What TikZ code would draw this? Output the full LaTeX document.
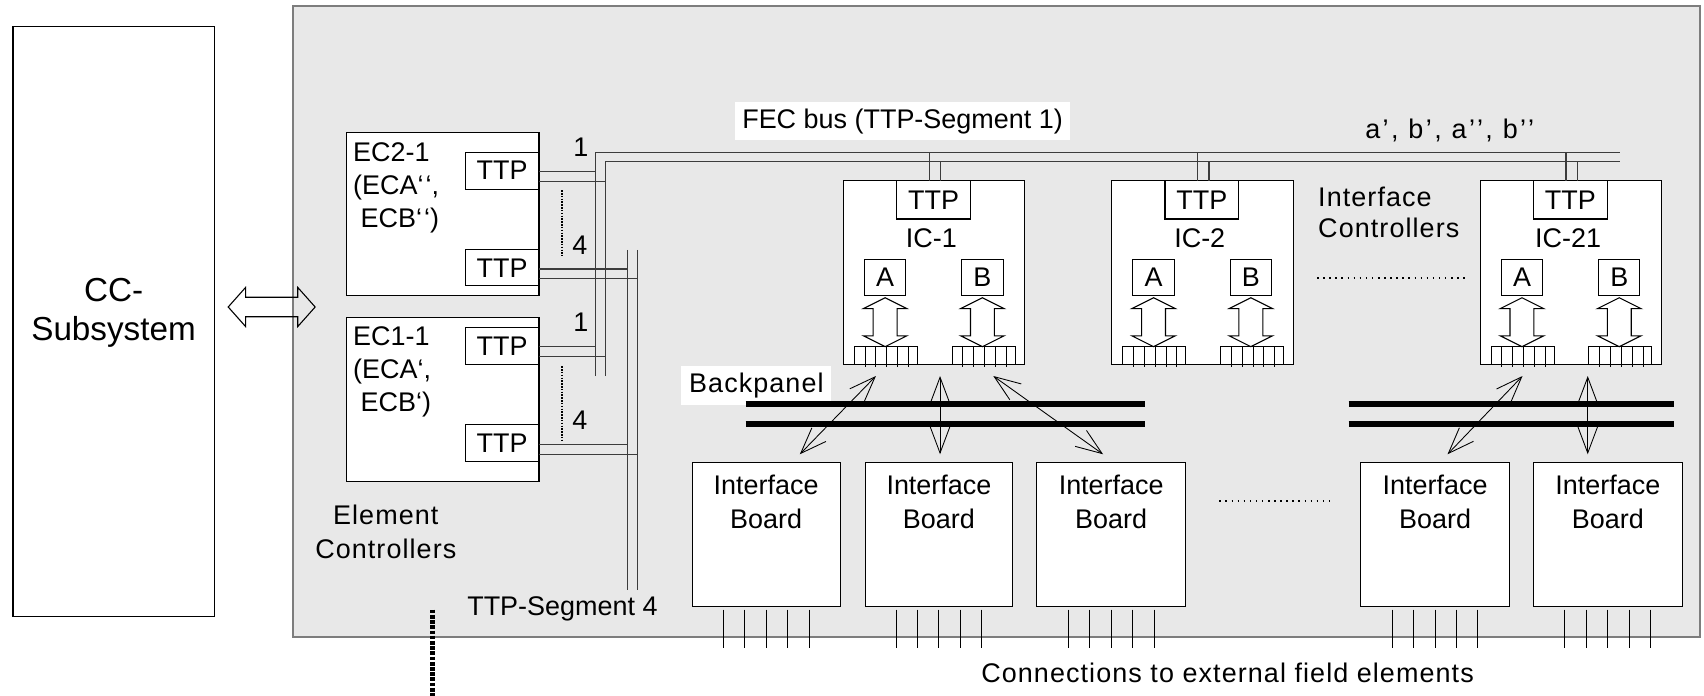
\documentclass[tikz,border=0pt]{standalone}
\usepackage{fontspec}
\setmainfont{Liberation Sans}
\usetikzlibrary{arrows.meta,fit,calc}
\definecolor{bggray}{RGB}{232,232,232}
\definecolor{edgegray}{RGB}{125,125,125}
\definecolor{busgray}{RGB}{60,60,60}
\newcommand{\mlt}[2][c]{\begin{tabular}[t]{@{}#1@{}}#2\end{tabular}}
\begin{document}
\begin{tikzpicture}[x=0.5pt,y=-0.5pt,
  every node/.style={font=\fontsize{12.4}{15.5}\selectfont, inner sep=0pt, outer sep=0pt},
  blk/.style={draw=black, fill=white, line width=0.5pt},
  bus/.style={draw=busgray, line width=0.5pt},
  wire/.style={draw=black, line width=0.45pt},
  bpline/.style={draw=black, line width=2.9pt},
  barb/.style={draw=black, line width=0.4pt, >={Straight Barb[length=12pt,width=9pt]}, <->},
  hollow/.style={draw=black, line width=0.5pt},
  dotline/.style={draw=black, line width=0.7pt, dash pattern=on 0.7pt off 2.1pt},
  finedots/.style={draw=black, line width=1pt, dash pattern=on 0.7pt off 0.6pt},
  lbl/.style={anchor=base},
]
\useasboundingbox (0,0) rectangle (1568,640);

% frame of the field electronics
\node[fit={(270,5.5) (1564,586)}, draw=edgegray, fill=bggray, line width=0.9pt] (frame) {};

% CC subsystem
\node[blk, fit={(12,24) (197,567)}] (cc) {};
\node[lbl, font=\fontsize{15.3}{18.3}\selectfont] (cctext) at (104.5,277) {\mlt{CC-\\Subsystem}};

% big double arrow
\draw[hollow] (210,282.5) -- (226,264.5) -- (226,273.5) -- (274,273.5) -- (274,264.5) -- (290,282.5)
  -- (274,300.5) -- (274,291.5) -- (226,291.5) -- (226,300.5) -- cycle;

% element controllers
\node[blk, fit={(319,122) (496,272)}] (ec2) {};
\node[blk, fit={(428,140) (496,174)}, label={[name=ec2t1x]center:TTP}] (ec2t1) {};
\node[blk, fit={(428,230) (496,263)}, label={[name=ec2t2x]center:TTP}] (ec2t2) {};
\node[lbl, anchor=base west, font=\fontsize{12.4}{15.2}\selectfont] (ec2txt) at (325,149) {\mlt[l]{EC2-1\\(ECA‘\kern0.08em‘,\\~ECB‘\kern0.08em‘)}};

\node[blk, fit={(319,292) (496,443)}] (ec1) {};
\node[blk, fit={(428,301.5) (496,335)}, label={[name=ec1t1x]center:TTP}] (ec1t1) {};
\node[blk, fit={(428,391) (496,425)}, label={[name=ec1t2x]center:TTP}] (ec1t2) {};
\node[lbl, anchor=base west, font=\fontsize{12.4}{15.2}\selectfont] (ec1txt) at (325,318) {\mlt[l]{EC1-1\\(ECA‘,\\~ECB‘)}};

\node[lbl, font=\fontsize{12.4}{15.5}\selectfont\addfontfeature{LetterSpace=4}] (ecc) at (355,483) {\mlt{Element\\Controllers}};

% buses
\coordinate (vo) at (548,346);
\coordinate (vi) at (557.5,346);
\coordinate (so) at (577,543);
\coordinate (si) at (587,543);
\coordinate (bo) at (1491,140);
\coordinate (bi) at (1491,149);
\draw[bus] (vo) |- (bo);
\draw[bus] (vi) |- (bi);
\draw[bus] (577,230) -- (so);
\draw[bus] (587,230) -- (si);

\foreach \t/\a/\b in {ec2t1/vo/vi, ec1t1/vo/vi, ec2t2/so/si, ec1t2/so/si} {
  \draw[bus] ($(\t.east)+(0,1)$) -- ($(\t.east -| \a)+(0,1)$);
  \draw[bus] ($(\t.east)+(0,10)$) -- ($(\t.east -| \b)+(0,10)$);
}

\node[lbl] (n1a) at (534.6,144) {1};
\node[lbl] (n4a) at (533.6,234) {4};
\node[lbl] (n1b) at (534.6,305.5) {1};
\node[lbl] (n4b) at (533.6,395) {4};
\draw[finedots] (517,175) -- (517,235);
\draw[finedots] (517,337) -- (517,406);

\node[lbl, anchor=base west] (seg4) at (430,566) {TTP-Segment 4};
\draw[draw=black, line width=2.1pt, dash pattern=on 1.7pt off 0.7pt] (398,561) -- (398,640);

% bus labels
\node[fill=white, fit={(676,94) (985,129)}, label={[name=fecx]center:FEC bus (TTP-Segment 1)}] (fec) {};
\node[lbl, font=\fontsize{12.4}{15.5}\selectfont\addfontfeature{LetterSpace=9}] (ab) at (1334,127) {a’, b’, a’’, b’’};

% interface controllers
\foreach \n/\L in {1/776, 2/1023, 21/1362} {
  \node[blk, fit={(\L,166.5) (\L+167,335)}] (ic\n) {};
  \node[blk, fit={(\L+49,166.5) (\L+117,201.5)}, label={[name=ict\n x]center:TTP}] (ict\n) {};
  \draw[bus] ($(ic\n.north west)+(79,0)$) coordinate (s1) -- (s1 |- bo);
  \draw[bus] ($(ic\n.north west)+(89.5,0)$) coordinate (s2) -- (s2 |- bi);
  \node[lbl] (icl\n) at (\L+81,228) {IC-\n};
  \node[blk, fit={(\L+19.5,239) (\L+57.5,272)}, label={[name=ica\n x]center:A}] (ica\n) {};
  \node[blk, fit={(\L+109,239) (\L+147,272)}, label={[name=icb\n x]center:B}] (icb\n) {};
  \foreach \cx in {38.5,128} {
    \draw[hollow, fill=white] (\L+\cx,274) -- (\L+\cx+20,284) -- (\L+\cx+11,284) -- (\L+\cx+11,309)
      -- (\L+\cx+20,309) -- (\L+\cx,319) -- (\L+\cx-20,309) -- (\L+\cx-11,309) -- (\L+\cx-11,284)
      -- (\L+\cx-20,284) -- cycle;
  }
  \foreach \sx in {10,100} {
    \draw[wire] (\L+\sx,335) -- (\L+\sx,319) -- (\L+\sx+58,319) -- (\L+\sx+58,335);
    \foreach \k in {10,20,30,40,50}
      \draw[wire] (\L+\sx+\k,319) -- (\L+\sx+\k,338);
  }
}
\node[lbl, anchor=base west, font=\fontsize{12.4}{14.5}\selectfont\addfontfeature{LetterSpace=4}] (ictxt) at (1213,190) {\mlt[l]{Interface\\Controllers}};
\draw[dotline] (1212,256) -- (1348,256);

% backpanel
\node[fill=white, fit={(627,337) (765,373)}, label={[name=bplx, font=\fontsize{12.4}{15.5}\selectfont\addfontfeature{LetterSpace=4}]center:Backpanel}] (bpl) {};
\draw[bpline] (686,372) -- (1054,372);
\draw[bpline] (686,390) -- (1054,390);
\draw[bpline] (1241,372) -- (1540,372);
\draw[bpline] (1241,390) -- (1540,390);

% interface boards
\foreach \n/\L/\R in {1/637/773, 2/796/932, 3/954/1091, 4/1252/1389, 5/1411/1548} {
  \node[blk, fit={(\L,426) (\R,558)}] (ib\n) {};
  \node[lbl] (ibl\n) at ({(\L+\R)/2},455) {\mlt{Interface\\Board}};
  \foreach \d in {-39.5,-19.75,0,19.75,39.5}
    \draw[wire] ({(\L+\R)/2+\d},561) -- ++(0,35);
}
\draw[dotline] (1122,461) -- (1228,461);

% backpanel connections
\coordinate (u1) at (806,346);  \coordinate (d1) at (736,418);
\coordinate (u2) at (865,346);  \coordinate (d2) at (865,418);
\coordinate (u3) at (914,346);  \coordinate (d3) at (1015,418);
\coordinate (u4) at (1401,346); \coordinate (d4) at (1332,418);
\coordinate (u5) at (1461,346); \coordinate (d5) at (1461,418);
\foreach \i in {1,...,5} \draw[barb] (u\i) -- (d\i);

\node[lbl, anchor=base west, font=\fontsize{12.4}{15.5}\selectfont\addfontfeature{LetterSpace=4}] (conn) at (903,628) {Connections to external field elements};
\end{tikzpicture}
\end{document}
